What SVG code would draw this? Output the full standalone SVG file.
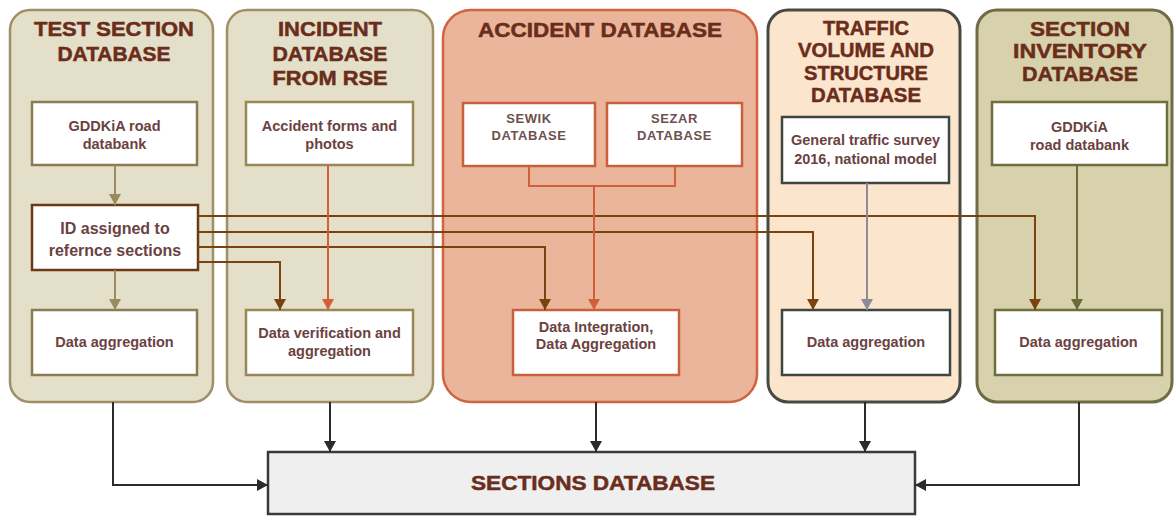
<svg xmlns="http://www.w3.org/2000/svg" width="1176" height="516" viewBox="0 0 1176 516">
<style>
.title{font-family:"Liberation Sans",Arial,sans-serif;font-weight:bold;font-size:20.5px;fill:#6b2d1b;stroke:#6b2d1b;stroke-width:0.5px;text-anchor:middle}
.txt{font-family:"Liberation Sans",Arial,sans-serif;font-weight:bold;font-size:14.5px;fill:#6b4242;text-anchor:middle}
.txt16{font-family:"Liberation Sans",Arial,sans-serif;font-weight:bold;font-size:16px;fill:#6b4242;text-anchor:middle}
.txtdb{font-family:"Liberation Sans",Arial,sans-serif;font-weight:bold;font-size:13px;fill:#6e5050;text-anchor:middle;letter-spacing:0.6px}
.box{fill:#ffffff;stroke-width:2.5}
.pan{stroke-width:2.5}
.ln{fill:none;stroke-width:2}
</style>
<defs>
<marker id="aBlack" markerUnits="userSpaceOnUse" markerWidth="12" markerHeight="12" refX="11" refY="6" orient="auto"><path d="M0,0 L11,6 L0,12 z" fill="#2b2b2b"/></marker>
<marker id="aBrown" markerUnits="userSpaceOnUse" markerWidth="12" markerHeight="12" refX="11" refY="6" orient="auto"><path d="M0,0 L11,6 L0,12 z" fill="#7a420f"/></marker>
<marker id="aTan" markerUnits="userSpaceOnUse" markerWidth="12" markerHeight="12" refX="11" refY="6" orient="auto"><path d="M0,0 L11,6 L0,12 z" fill="#9a8a62"/></marker>
<marker id="aRed" markerUnits="userSpaceOnUse" markerWidth="12" markerHeight="12" refX="11" refY="6" orient="auto"><path d="M0,0 L11,6 L0,12 z" fill="#d0603a"/></marker>
<marker id="aGray" markerUnits="userSpaceOnUse" markerWidth="12" markerHeight="12" refX="11" refY="6" orient="auto"><path d="M0,0 L11,6 L0,12 z" fill="#8e8a9a"/></marker>
<marker id="aOlive" markerUnits="userSpaceOnUse" markerWidth="12" markerHeight="12" refX="11" refY="6" orient="auto"><path d="M0,0 L11,6 L0,12 z" fill="#6b6b3a"/></marker>
</defs>

<g id="panel-test-section">
<rect class="pan" x="10" y="10" width="203" height="392" rx="20" fill="#e4dfc8" stroke="#a08f66"/>
<text class="title" x="114" y="36" textLength="160" lengthAdjust="spacingAndGlyphs">TEST SECTION</text>
<text class="title" x="114" y="61" textLength="113" lengthAdjust="spacingAndGlyphs">DATABASE</text>
</g>
<g id="panel-incident">
<rect class="pan" x="227" y="10" width="206" height="392" rx="20" fill="#e4dfc8" stroke="#a08f66"/>
<text class="title" x="330" y="36" textLength="104" lengthAdjust="spacingAndGlyphs">INCIDENT</text>
<text class="title" x="330" y="61" textLength="115" lengthAdjust="spacingAndGlyphs">DATABASE</text>
<text class="title" x="330" y="85" textLength="115" lengthAdjust="spacingAndGlyphs">FROM RSE</text>
</g>
<g id="panel-accident">
<rect class="pan" x="443" y="10" width="314" height="392" rx="28" fill="#ebb59c" stroke="#d0643e"/>
<text class="title" x="600" y="37" textLength="244" lengthAdjust="spacingAndGlyphs">ACCIDENT DATABASE</text>
</g>
<g id="panel-traffic">
<rect x="768" y="10" width="192" height="392" rx="20" fill="#fbe6cd" stroke="#474a44" stroke-width="3"/>
<text class="title" x="866" y="35" textLength="86" lengthAdjust="spacingAndGlyphs">TRAFFIC</text>
<text class="title" x="866" y="57" textLength="136" lengthAdjust="spacingAndGlyphs">VOLUME AND</text>
<text class="title" x="866" y="80" textLength="124" lengthAdjust="spacingAndGlyphs">STRUCTURE</text>
<text class="title" x="866" y="102" textLength="110" lengthAdjust="spacingAndGlyphs">DATABASE</text>
</g>
<g id="panel-inventory">
<rect x="977" y="10" width="195" height="392" rx="20" fill="#d7d2ab" stroke="#6f6c45" stroke-width="3"/>
<text class="title" x="1080" y="36" textLength="100" lengthAdjust="spacingAndGlyphs">SECTION</text>
<text class="title" x="1080" y="58" textLength="134" lengthAdjust="spacingAndGlyphs">INVENTORY</text>
<text class="title" x="1080" y="81" textLength="116" lengthAdjust="spacingAndGlyphs">DATABASE</text>
</g>

<g id="p1-gddkia">
<rect class="box" x="32" y="102" width="165" height="63" stroke="#8c7b52"/>
<text class="txt" x="114.5" y="131">GDDKiA road</text>
<text class="txt" x="114.5" y="149">databank</text>
</g>
<g id="p1-id">
<rect class="box" x="32" y="205" width="166" height="65" stroke="#6b3a15" stroke-width="3"/>
<text class="txt16" x="115" y="234">ID assigned to</text>
<text class="txt16" x="115" y="256">refernce sections</text>
</g>
<g id="p1-aggregation">
<rect class="box" x="32" y="310" width="165" height="65" stroke="#8c7b52"/>
<text class="txt" x="114.5" y="347">Data aggregation</text>
</g>
<g id="p2-forms">
<rect class="box" x="246" y="102" width="167" height="63" stroke="#9a8758"/>
<text class="txt" x="329.5" y="131">Accident forms and</text>
<text class="txt" x="329.5" y="149">photos</text>
</g>
<g id="p2-verification">
<rect class="box" x="246" y="310" width="167" height="65" stroke="#9a8758"/>
<text class="txt" x="329.5" y="338">Data verification and</text>
<text class="txt" x="329.5" y="356">aggregation</text>
</g>
<g id="p3-sewik">
<rect class="box" x="463" y="103" width="132" height="63" stroke="#c8603a"/>
<text class="txtdb" x="529" y="123">SEWIK</text>
<text class="txtdb" x="529" y="140">DATABASE</text>
</g>
<g id="p3-sezar">
<rect class="box" x="607" y="103" width="135" height="63" stroke="#c8603a"/>
<text class="txtdb" x="674.5" y="123">SEZAR</text>
<text class="txtdb" x="674.5" y="140">DATABASE</text>
</g>
<g id="p3-integration">
<rect class="box" x="513" y="310" width="166" height="65" stroke="#c8603a"/>
<text class="txt" x="596" y="332">Data Integration,</text>
<text class="txt" x="596" y="349">Data Aggregation</text>
</g>
<g id="p4-survey">
<rect class="box" x="782" y="117" width="167" height="66" stroke="#3e4640" stroke-width="3"/>
<text class="txt" x="865.5" y="145">General traffic survey</text>
<text class="txt" x="865.5" y="164">2016, national model</text>
</g>
<g id="p4-aggregation">
<rect class="box" x="782" y="310" width="168" height="65" stroke="#3e4640" stroke-width="3"/>
<text class="txt" x="866" y="347">Data aggregation</text>
</g>
<g id="p5-gddkia">
<rect class="box" x="992" y="102" width="175" height="63" stroke="#6e6e40"/>
<text class="txt" x="1079.5" y="132">GDDKiA</text>
<text class="txt" x="1079.5" y="150">road databank</text>
</g>
<g id="p5-aggregation">
<rect class="box" x="995" y="310" width="167" height="65" stroke="#6e6e40"/>
<text class="txt" x="1078.5" y="347">Data aggregation</text>
</g>
<g id="sections-db">
<rect x="268" y="452" width="647" height="62" fill="#efefef" stroke="#3a3a3a" stroke-width="2.5"/>
<text class="title" x="593" y="490" textLength="244" lengthAdjust="spacingAndGlyphs">SECTIONS DATABASE</text>
</g>

<g id="connectors">
<path class="ln" d="M115,165 V205" stroke="#9a8a62" marker-end="url(#aTan)"/>
<path class="ln" d="M115,270 V310" stroke="#9a8a62" marker-end="url(#aTan)"/>
<path class="ln" d="M198,216 H1035 V310" stroke="#7a420f" marker-end="url(#aBrown)"/>
<path class="ln" d="M198,232 H813 V310" stroke="#7a420f" marker-end="url(#aBrown)"/>
<path class="ln" d="M198,247 H545 V310" stroke="#7a420f" marker-end="url(#aBrown)"/>
<path class="ln" d="M198,262 H280 V310" stroke="#7a420f" marker-end="url(#aBrown)"/>
<path class="ln" d="M328,165 V310" stroke="#d0603a" marker-end="url(#aRed)"/>
<path class="ln" d="M529,166 V186 H675 V166" stroke="#d0603a"/>
<path class="ln" d="M594,186 V310" stroke="#d0603a" marker-end="url(#aRed)"/>
<path class="ln" d="M867,183 V310" stroke="#8e8a9a" marker-end="url(#aGray)"/>
<path class="ln" d="M1077,165 V310" stroke="#6b6b3a" marker-end="url(#aOlive)"/>
<path class="ln" d="M113,402 V485 H268" stroke="#2b2b2b" marker-end="url(#aBlack)"/>
<path class="ln" d="M330,402 V452" stroke="#2b2b2b" marker-end="url(#aBlack)"/>
<path class="ln" d="M596,402 V452" stroke="#2b2b2b" marker-end="url(#aBlack)"/>
<path class="ln" d="M865,402 V452" stroke="#2b2b2b" marker-end="url(#aBlack)"/>
<path class="ln" d="M1079,402 V485 H915" stroke="#2b2b2b" marker-end="url(#aBlack)"/>
</g>
</svg>
